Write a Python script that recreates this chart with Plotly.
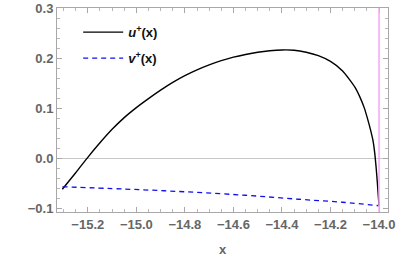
import plotly.graph_objects as go

# u+(x)
x_u = [-15.305, -15.25, -15.205, -15.15, -15.10, -15.05, -15.00, -14.95, -14.90,
       -14.85, -14.80, -14.75, -14.70, -14.65, -14.60, -14.55, -14.50, -14.45,
       -14.40, -14.35, -14.30, -14.25, -14.20, -14.15, -14.10, -14.08, -14.06,
       -14.046, -14.035, -14.025, -14.018, -14.012, -14.007, -14.003, -14.0]
u_vals = [-0.062, -0.029, -0.001, 0.031, 0.058, 0.0815, 0.1015, 0.1195, 0.1365,
          0.152, 0.1655, 0.177, 0.187, 0.1955, 0.2025, 0.208, 0.2125, 0.2155,
          0.217, 0.2165, 0.2125, 0.2055, 0.194, 0.175, 0.143, 0.124, 0.100,
          0.077, 0.057, 0.036, 0.012, -0.018, -0.048, -0.075, -0.095]

# v+(x)
x_v = [-15.305, -15.05, -14.80, -14.55, -14.33, -14.15, -14.0]
v_vals = [-0.057, -0.0615, -0.067, -0.074, -0.082, -0.088, -0.095]

x_mark = -14.0  # vertical reference line

x_ticks = [-15.2, -15.0, -14.8, -14.6, -14.4, -14.2, -14.0]
y_ticks = [-0.1, 0.0, 0.1, 0.2, 0.3]

fig = go.Figure()
fig.add_trace(go.Scatter(x=x_u, y=u_vals, mode="lines", legendgroup="u",
                         line=dict(color="black", width=1.4, shape="spline", smoothing=0.6),
                         name="<b><i>u</i><sup>+</sup>(x)</b>"))
fig.add_trace(go.Scatter(x=x_v, y=v_vals, mode="lines", legendgroup="v",
                         line=dict(color="#1010ee", width=1.3, dash="5px,4px", shape="spline"),
                         name="<b><i>v</i><sup>+</sup>(x)</b>"))
fig.add_vline(x=x_mark, line=dict(color="#f4a6f4", width=1.5))

tick_font = dict(family="Liberation Sans", size=13, color="#666666", weight="bold")
axis_common = dict(
    showline=True, linecolor="#a8a8a8", linewidth=1, mirror="allticks",
    ticks="inside", ticklen=5, tickcolor="#a8a8a8", tickwidth=1,
    showgrid=False, tickfont=tick_font, automargin=False,
)

fig.update_xaxes(range=[-15.327, -13.963], tickvals=x_ticks,
                 ticktext=[f"\u2212{abs(t):.1f}" for t in x_ticks],
                 minor=dict(dtick=0.05, ticks="inside", ticklen=3, tickcolor="#b8b8b8"),
                 zeroline=False,
                 title=dict(text="x", font=tick_font, standoff=16),
                 **axis_common)
fig.update_yaxes(range=[-0.1075, 0.301], tickvals=y_ticks,
                 ticktext=["\u22120.1", "0.0", "0.1", "0.2", "0.3"],
                 minor=dict(dtick=0.02, ticks="inside", ticklen=3, tickcolor="#b8b8b8"),
                 zeroline=True, zerolinecolor="#c8c8c8", zerolinewidth=1,
                 **axis_common)

fig.update_layout(
    width=399, height=257,
    margin=dict(l=57, r=11, t=8, b=45),
    plot_bgcolor="white", paper_bgcolor="white",
    showlegend=True,
    legend=dict(x=0.064, y=0.955, xanchor="left", yanchor="top",
                bgcolor="rgba(0,0,0,0)",
                font=dict(family="Liberation Sans", size=13, color="#111111"),
                tracegroupgap=6, itemwidth=40),
)

fig.write_html("out.html", config={"displayModeBar": False},
               post_script="document.body.style.margin='0';")
